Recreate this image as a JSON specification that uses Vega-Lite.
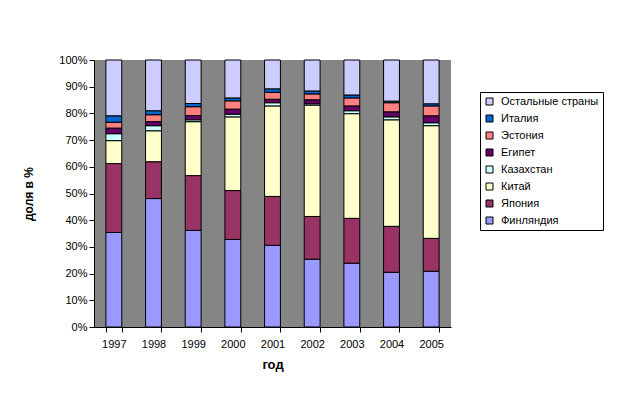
{
  "$schema": "https://vega.github.io/schema/vega-lite/v6.json",
  "width": 357,
  "height": 267,
  "autosize": {"type": "none"},
  "padding": {"left": 94, "top": 60, "right": 192, "bottom": 70},
  "background": "white",
  "config": {
    "font": "Liberation Sans",
    "view": {"fill": "#858585", "stroke": null},
    "axis": {"labelFont": "Liberation Sans", "labelFontSize": 11, "labelColor": "black", "domainColor": "black", "tickColor": "black", "titleFont": "Liberation Sans", "titleFontWeight": "bold", "titleColor": "black", "titleFontSize": 12, "grid": false, "tickSize": 5}
  },
  "data": {"values": [
    {"year":"1997","country":"Финляндия","k":1,"v":35.4},
    {"year":"1997","country":"Япония","k":2,"v":25.8},
    {"year":"1997","country":"Китай","k":3,"v":8.6},
    {"year":"1997","country":"Казахстан","k":4,"v":2.6},
    {"year":"1997","country":"Египет","k":5,"v":2.1},
    {"year":"1997","country":"Эстония","k":6,"v":2.2},
    {"year":"1997","country":"Италия","k":7,"v":2.4},
    {"year":"1997","country":"Остальные страны","k":8,"v":20.9},
    {"year":"1998","country":"Финляндия","k":1,"v":48.1},
    {"year":"1998","country":"Япония","k":2,"v":13.8},
    {"year":"1998","country":"Китай","k":3,"v":11.6},
    {"year":"1998","country":"Казахстан","k":4,"v":1.9},
    {"year":"1998","country":"Египет","k":5,"v":1.5},
    {"year":"1998","country":"Эстония","k":6,"v":2.6},
    {"year":"1998","country":"Италия","k":7,"v":1.5},
    {"year":"1998","country":"Остальные страны","k":8,"v":19.0},
    {"year":"1999","country":"Финляндия","k":1,"v":36.2},
    {"year":"1999","country":"Япония","k":2,"v":20.5},
    {"year":"1999","country":"Китай","k":3,"v":20.2},
    {"year":"1999","country":"Казахстан","k":4,"v":0.7},
    {"year":"1999","country":"Египет","k":5,"v":1.6},
    {"year":"1999","country":"Эстония","k":6,"v":3.3},
    {"year":"1999","country":"Италия","k":7,"v":1.2},
    {"year":"1999","country":"Остальные страны","k":8,"v":16.3},
    {"year":"2000","country":"Финляндия","k":1,"v":32.8},
    {"year":"2000","country":"Япония","k":2,"v":18.3},
    {"year":"2000","country":"Китай","k":3,"v":27.6},
    {"year":"2000","country":"Казахстан","k":4,"v":1.0},
    {"year":"2000","country":"Египет","k":5,"v":1.9},
    {"year":"2000","country":"Эстония","k":6,"v":3.1},
    {"year":"2000","country":"Италия","k":7,"v":1.1},
    {"year":"2000","country":"Остальные страны","k":8,"v":14.2},
    {"year":"2001","country":"Финляндия","k":1,"v":30.6},
    {"year":"2001","country":"Япония","k":2,"v":18.3},
    {"year":"2001","country":"Китай","k":3,"v":33.9},
    {"year":"2001","country":"Казахстан","k":4,"v":1.2},
    {"year":"2001","country":"Египет","k":5,"v":1.3},
    {"year":"2001","country":"Эстония","k":6,"v":2.6},
    {"year":"2001","country":"Италия","k":7,"v":1.3},
    {"year":"2001","country":"Остальные страны","k":8,"v":10.8},
    {"year":"2002","country":"Финляндия","k":1,"v":25.4},
    {"year":"2002","country":"Япония","k":2,"v":16.0},
    {"year":"2002","country":"Китай","k":3,"v":41.7},
    {"year":"2002","country":"Казахстан","k":4,"v":0.5},
    {"year":"2002","country":"Египет","k":5,"v":1.5},
    {"year":"2002","country":"Эстония","k":6,"v":2.2},
    {"year":"2002","country":"Италия","k":7,"v":1.1},
    {"year":"2002","country":"Остальные страны","k":8,"v":11.6},
    {"year":"2003","country":"Финляндия","k":1,"v":23.9},
    {"year":"2003","country":"Япония","k":2,"v":16.8},
    {"year":"2003","country":"Китай","k":3,"v":39.2},
    {"year":"2003","country":"Казахстан","k":4,"v":1.1},
    {"year":"2003","country":"Египет","k":5,"v":1.8},
    {"year":"2003","country":"Эстония","k":6,"v":3.0},
    {"year":"2003","country":"Италия","k":7,"v":1.1},
    {"year":"2003","country":"Остальные страны","k":8,"v":13.1},
    {"year":"2004","country":"Финляндия","k":1,"v":20.5},
    {"year":"2004","country":"Япония","k":2,"v":17.2},
    {"year":"2004","country":"Китай","k":3,"v":39.9},
    {"year":"2004","country":"Казахстан","k":4,"v":1.1},
    {"year":"2004","country":"Египет","k":5,"v":1.9},
    {"year":"2004","country":"Эстония","k":6,"v":3.4},
    {"year":"2004","country":"Италия","k":7,"v":0.6},
    {"year":"2004","country":"Остальные страны","k":8,"v":15.4},
    {"year":"2005","country":"Финляндия","k":1,"v":20.9},
    {"year":"2005","country":"Япония","k":2,"v":12.3},
    {"year":"2005","country":"Китай","k":3,"v":42.2},
    {"year":"2005","country":"Казахстан","k":4,"v":1.1},
    {"year":"2005","country":"Египет","k":5,"v":2.6},
    {"year":"2005","country":"Эстония","k":6,"v":3.7},
    {"year":"2005","country":"Италия","k":7,"v":0.8},
    {"year":"2005","country":"Остальные страны","k":8,"v":16.4}
  ]},
  "mark": {"type": "bar", "stroke": "black", "strokeWidth": 1},
  "encoding": {
    "x": {
      "field": "year", "type": "ordinal", "title": "год",
      "scale": {"paddingInner": 0.6, "paddingOuter": 0.3},
      "axis": {"labelAngle": 0, "tickBand": "extent", "labelPadding": 6, "titlePadding": 9, "titleFontSize": 13}
    },
    "y": {
      "field": "v", "type": "quantitative", "stack": "normalize", "title": "доля в %",
      "axis": {"format": ".0%", "values": [0,0.1,0.2,0.3,0.4,0.5,0.6,0.7,0.8,0.9,1], "labelPadding": 2, "titlePadding": 23}
    },
    "color": {
      "field": "country", "type": "nominal", "title": null,
      "scale": {
        "domain": ["Остальные страны","Италия","Эстония","Египет","Казахстан","Китай","Япония","Финляндия"],
        "range": ["#CCCCFF","#0066CC","#FF8080","#660066","#CCFFFF","#FFFFCC","#993366","#9999FF"]
      },
      "legend": {
        "orient": "none", "legendX": 386, "legendY": 32,
        "padding": 4, "strokeColor": "black", "fillColor": "white",
        "symbolType": "square", "symbolSize": 49, "symbolStrokeColor": "black", "symbolStrokeWidth": 1, "symbolOpacity": 1,
        "labelFontSize": 11, "labelColor": "black", "labelOffset": 6, "rowPadding": 5
      }
    },
    "order": {"field": "k", "type": "quantitative", "sort": "ascending"}
  }
}
